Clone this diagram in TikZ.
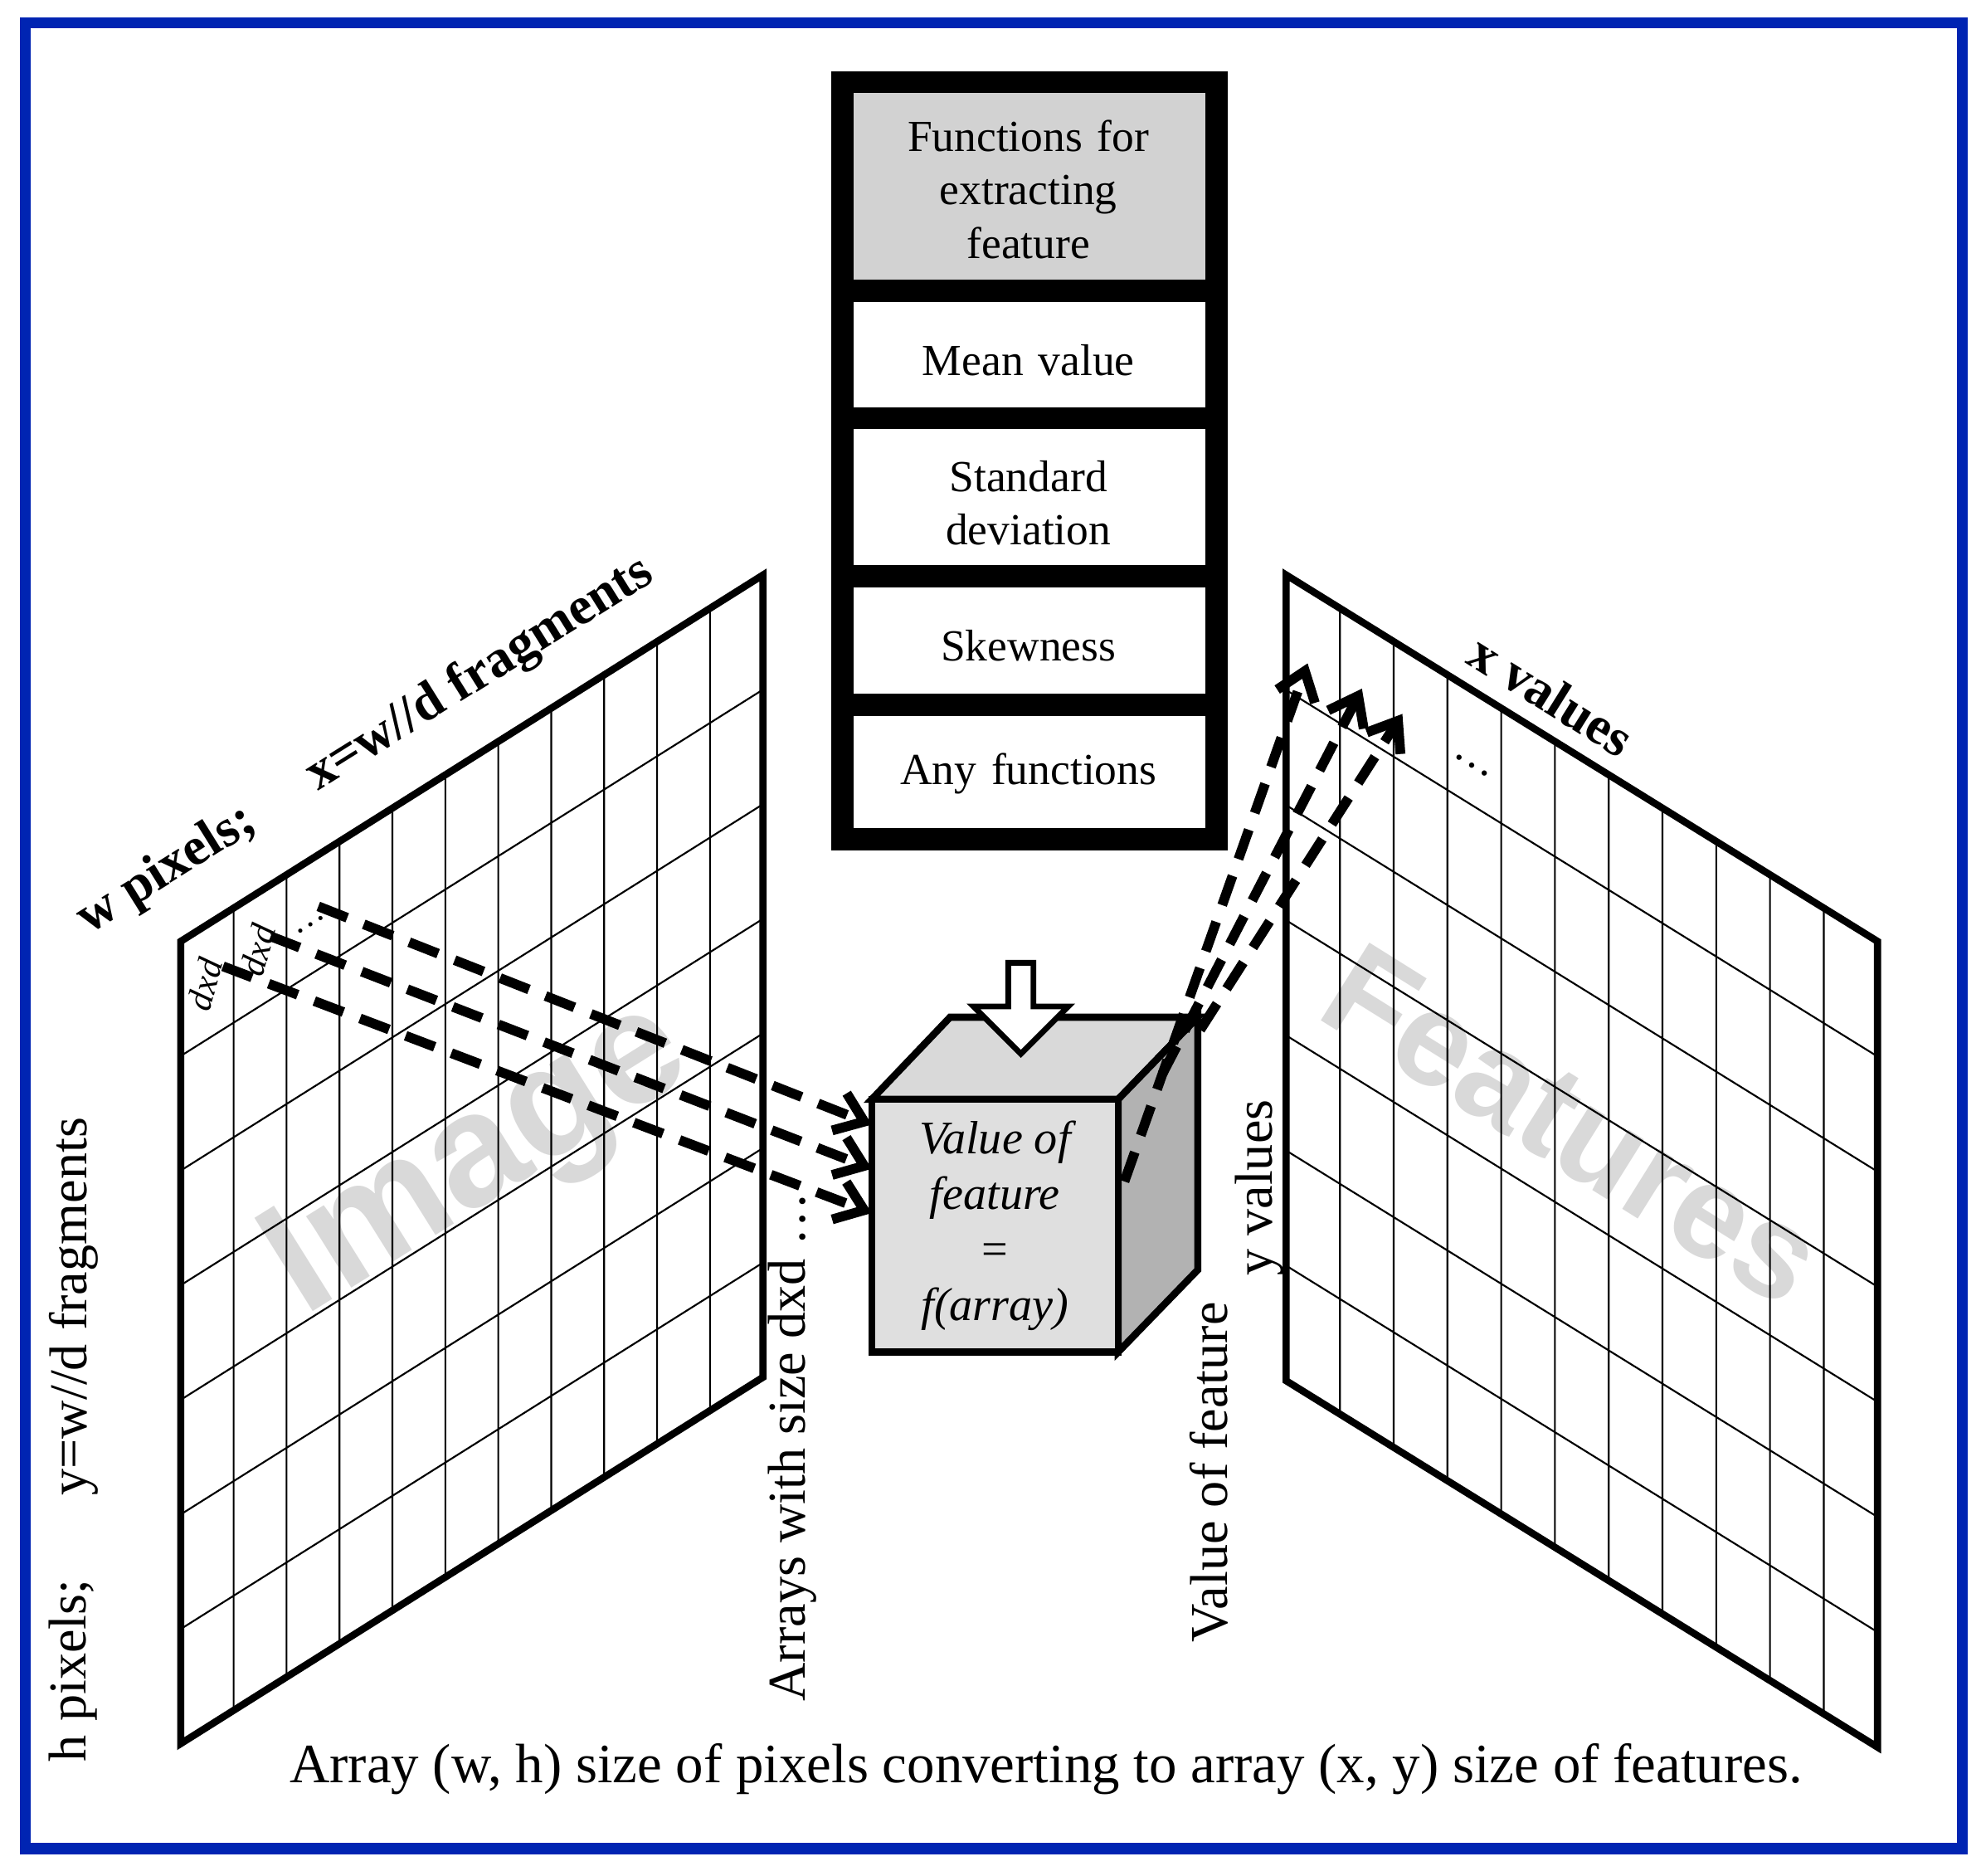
\documentclass[tikz,border=0pt]{standalone}
\usepackage{fontspec}
\setmainfont{Liberation Serif}
\newfontfamily\bigsans{Liberation Sans}
\usetikzlibrary{shapes.arrows,arrows.meta,positioning}

\begin{document}
\begin{tikzpicture}[x=1cm,y=1cm]
        \tikzstyle{cell} = [rectangle, draw=black, line width=4pt, text centered, text width=2.6cm, font=\fontsize{10}{12}\selectfont]
        \tikzstyle{mesh} = [draw, thin]
        \tikzstyle{flow} = [draw, line width=2.2pt, dash pattern=on 7pt off 4pt, -{Straight Barb[length=6pt,width=9pt]}]
        \tikzstyle{lbl} = [font=\fontsize{12}{14}\selectfont]
        \useasboundingbox (0,0) rectangle (15.68,14.84);
        \draw[blue!80!cyan!70!black, line width=2.5pt] (0.20,0.21) rectangle (15.53,14.66);

        % table of feature functions
        \fill[gray!35] (6.70,12.56) rectangle (9.60,14.17);
        \draw[line width=5pt] (6.67,8.20) rectangle (9.63,14.19);
        \foreach \yy in {12.54,11.53,10.28,9.26} \draw[line width=5pt] (6.67,\yy) -- (9.63,\yy);
        \node[cell, draw=none] (head) at (8.14,13.34) {Functions for\\extracting\\feature};
        \node[cell, draw=none] (mean) at (8.14,11.99) {Mean value};
        \node[cell, draw=none] (std) at (8.14,10.86) {Standard\\deviation};
        \node[cell, draw=none] (skew) at (8.14,9.73) {Skewness};
        \node[cell, draw=none] (anyf) at (8.14,8.72) {Any functions};

        % image grid
        \node[gray!30, font=\bigsans\bfseries\fontsize{36}{36}\selectfont, rotate=32] (imgword) at (3.80,5.64) {Image};
        \begin{scope}[cm={0.419,0.2636,0,-0.907,(1.43,7.39)}]
            \draw[mesh] (0,0) grid (11,7);
            \draw[line width=1.6pt] (0,0) rectangle (11,7);
            \coordinate (s1) at (0.8,0.45);
            \coordinate (s2) at (1.7,0.45);
            \coordinate (s3) at (2.6,0.45);
        \end{scope}
        \node[font=\itshape\fontsize{8}{9}\selectfont, rotate=75] (dd1) at (1.62,7.05) {dxd};
        \node[font=\itshape\fontsize{8}{9}\selectfont, rotate=75] (dd2) at (2.04,7.32) {dxd};
        \node[font=\fontsize{8}{9}\selectfont, rotate=32] (dd3) at (2.46,7.52) {\dots};

        % feature grid
        \node[gray!30, font=\bigsans\bfseries\fontsize{30}{30}\selectfont, rotate=-32] (featword) at (12.45,5.94) {Features};
        \begin{scope}[cm={0.4255,-0.2636,0,-0.911,(10.18,10.29)}]
            \draw[mesh] (0,0) grid (11,7);
            \draw[line width=1.6pt] (0,0) rectangle (11,7);
        \end{scope}
        \coordinate (t1) at (10.35,9.59);
        \coordinate (t2) at (10.78,9.39);
        \coordinate (t3) at (11.10,9.19);
        \node[font=\fontsize{10}{12}\selectfont, rotate=-32] (xd) at (11.65,8.78) {\dots};

        % cube
        \fill[gray!30, draw=black, line width=1.6pt] (6.90,6.14) -- (7.52,6.79) -- (9.48,6.79) -- (8.85,6.14) -- cycle;
        \fill[gray!60, draw=black, line width=1.6pt] (8.85,6.14) -- (9.48,6.79) -- (9.48,4.79) -- (8.85,4.14) -- cycle;
        \node[draw, line width=1.6pt, fill=gray!25, minimum width=1.95cm, minimum height=2.0cm, inner sep=0pt, align=center, font=\itshape\fontsize{10.5}{12.5}\selectfont] (cube) at (7.875,5.14) {Value of\\feature\\\upshape=\\f(array)};
        \node[single arrow, draw, fill=white, line width=1.3pt, rotate=-90, minimum height=0.72cm, minimum width=0.75cm, single arrow head extend=0.16cm, inner sep=1pt] (down) at (8.08,6.91) {};

        % dashed connectors
        \coordinate (c1) at (6.90,5.24);
        \coordinate (c2) at (6.90,5.59);
        \coordinate (c3) at (6.90,5.94);
        \path[flow] (s1) -- (c1);
        \path[flow] (s2) -- (c2);
        \path[flow] (s3) -- (c3);
        \coordinate (r1) at (8.90,5.49);
        \coordinate (r2) at (9.20,6.34);
        \coordinate (r3) at (9.50,6.69);
        \path[flow] (r1) -- (t1);
        \path[flow] (r2) -- (t2);
        \path[flow] (r3) -- (t3);

        % labels
        \node[lbl, font=\bfseries\fontsize{12}{14}\selectfont, rotate=32] (wpix) at (1.32,7.95) {w pixels;};
        \node[lbl, font=\bfseries\fontsize{12}{14}\selectfont, rotate=32] (xfrag) at (3.80,9.50) {x=w//d fragments};
        \node[lbl, rotate=90] (hpix) at (0.58,1.62) {h pixels;};
        \node[lbl, rotate=90] (yfrag) at (0.58,4.50) {y=w//d fragments};
        \node[lbl, rotate=90] (arrays) at (6.27,3.39) {Arrays with size dxd \dots};
        \node[lbl, rotate=90] (valf) at (9.57,3.19) {Value of feature};
        \node[lbl, rotate=90] (yval) at (9.97,5.44) {y values};
        \node[lbl, font=\bfseries\fontsize{12}{14}\selectfont, rotate=-32] (xval) at (12.28,9.34) {x values};
        \node[lbl, font=\fontsize{12.5}{15}\selectfont] (caption) at (8.28,0.84) {Array (w, h) size of pixels converting to array (x, y) size of features.};
    \end{tikzpicture}
\end{document}
